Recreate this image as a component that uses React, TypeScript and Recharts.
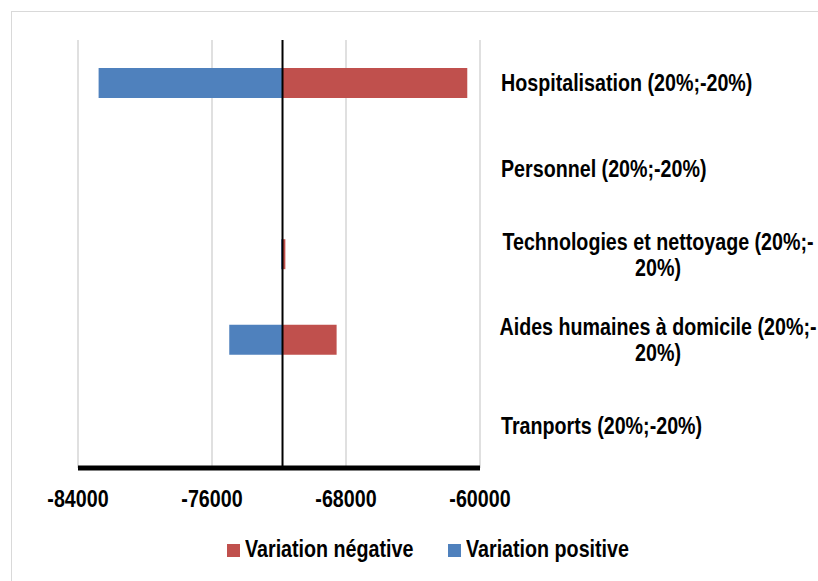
import { BarChart, Bar, XAxis, YAxis, CartesianGrid, ReferenceLine } from "recharts";

const categories = [
  "Hospitalisation (20%;-20%)",
  "Personnel (20%;-20%)",
  "Technologies et nettoyage (20%;-20%)",
  "Aides humaines à domicile (20%;-20%)",
  "Tranports (20%;-20%)",
];
// left end of each bar (variation positive, blue)
const positiveEnd = [-82770, -71790, -71870, -74970, -71790];
// right end of each bar (variation négative, red)
const negativeEnd = [-60760, -71790, -71620, -68560, -71790];
const baseline = -71790;
const xTicks = [-84000, -76000, -68000, -60000];

const data = categories.map((name, i) => ({
  name,
  positive: [positiveEnd[i], baseline],
  negative: [baseline, negativeEnd[i]],
}));

const BLUE = "#4F81BD";
const RED = "#C0504D";
const FONT = "'Liberation Sans', Arial, sans-serif";

const XTick = ({ x, y, payload }: any) => (
  <text
    transform={`translate(${x},${y + 30.5}) scale(0.82,1)`}
    textAnchor="middle"
    fontFamily={FONT}
    fontWeight={700}
    fontSize={24}
    fill="#000"
  >
    {payload.value}
  </text>
);

const wrapLabel = (label: string) => {
  if (label.length <= 30) return [label];
  const cut = label.lastIndexOf("-") + 1;
  return [label.slice(0, cut), label.slice(cut)];
};

const YTick = ({ x, y, payload }: any) => {
  const lines = wrapLabel(payload.value);
  if (lines.length === 1) {
    return (
      <text
        transform={`translate(${x},${y + 8.5}) scale(0.82,1)`}
        textAnchor="start"
        fontFamily={FONT}
        fontWeight={700}
        fontSize={24}
        fill="#000"
      >
        {lines[0]}
      </text>
    );
  }
  const lh = 26;
  return (
    <g>
      {lines.map((line, i) => (
        <text
          key={i}
          transform={`translate(${x + 157},${y + 8.5 - lh / 2 + i * lh}) scale(0.82,1)`}
          textAnchor="middle"
          fontFamily={FONT}
          fontWeight={700}
          fontSize={24}
          fill="#000"
        >
          {line}
        </text>
      ))}
    </g>
  );
};

const legendText = {
  position: "absolute" as const,
  top: 537,
  fontFamily: FONT,
  fontWeight: 700,
  fontSize: 24,
  lineHeight: "24px",
  whiteSpace: "nowrap" as const,
  transform: "scaleX(0.82)",
  transformOrigin: "left",
  color: "#000",
};

export default function App() {
  return (
    <div style={{ position: "absolute", left: 0, top: 0, width: 818, height: 581, background: "#fff", overflow: "hidden" }}>
      <div
        style={{
          position: "absolute",
          left: 11,
          top: 11,
          width: 900,
          height: 700,
          borderTop: "1px solid #d9d9d9",
          borderLeft: "1px solid #d9d9d9",
        }}
      />
      <div style={{ position: "absolute", left: 0, top: 0 }}>
        <BarChart
          width={818}
          height={581}
          data={data}
          layout="vertical"
          margin={{ top: 40, right: 0, bottom: 68, left: 78 }}
          barSize={30}
          barGap={-30}
        >
          <CartesianGrid horizontal={false} stroke="#d9d9d9" strokeWidth={1.6} />
          <XAxis
            type="number"
            domain={[-84000, -60000]}
            ticks={xTicks}
            allowDataOverflow
            axisLine={{ stroke: "#000", strokeWidth: 5 }}
            tickLine={false}
            tick={<XTick />}
            height={45}
          />
          <YAxis
            type="category"
            dataKey="name"
            orientation="right"
            width={338}
            axisLine={false}
            tickLine={false}
            tickMargin={15}
            interval={0}
            tick={<YTick />}
          />
          <Bar dataKey="positive" fill={BLUE} isAnimationActive={false} />
          <Bar dataKey="negative" fill={RED} isAnimationActive={false} />
          <ReferenceLine x={baseline} stroke="#000" strokeWidth={2} />
        </BarChart>
      </div>
      <div style={{ position: "absolute", left: 227, top: 544, width: 13, height: 13, background: RED }} />
      <div style={{ ...legendText, left: 245 }}>Variation négative</div>
      <div style={{ position: "absolute", left: 448, top: 544, width: 13, height: 13, background: BLUE }} />
      <div style={{ ...legendText, left: 466 }}>Variation positive</div>
    </div>
  );
}
